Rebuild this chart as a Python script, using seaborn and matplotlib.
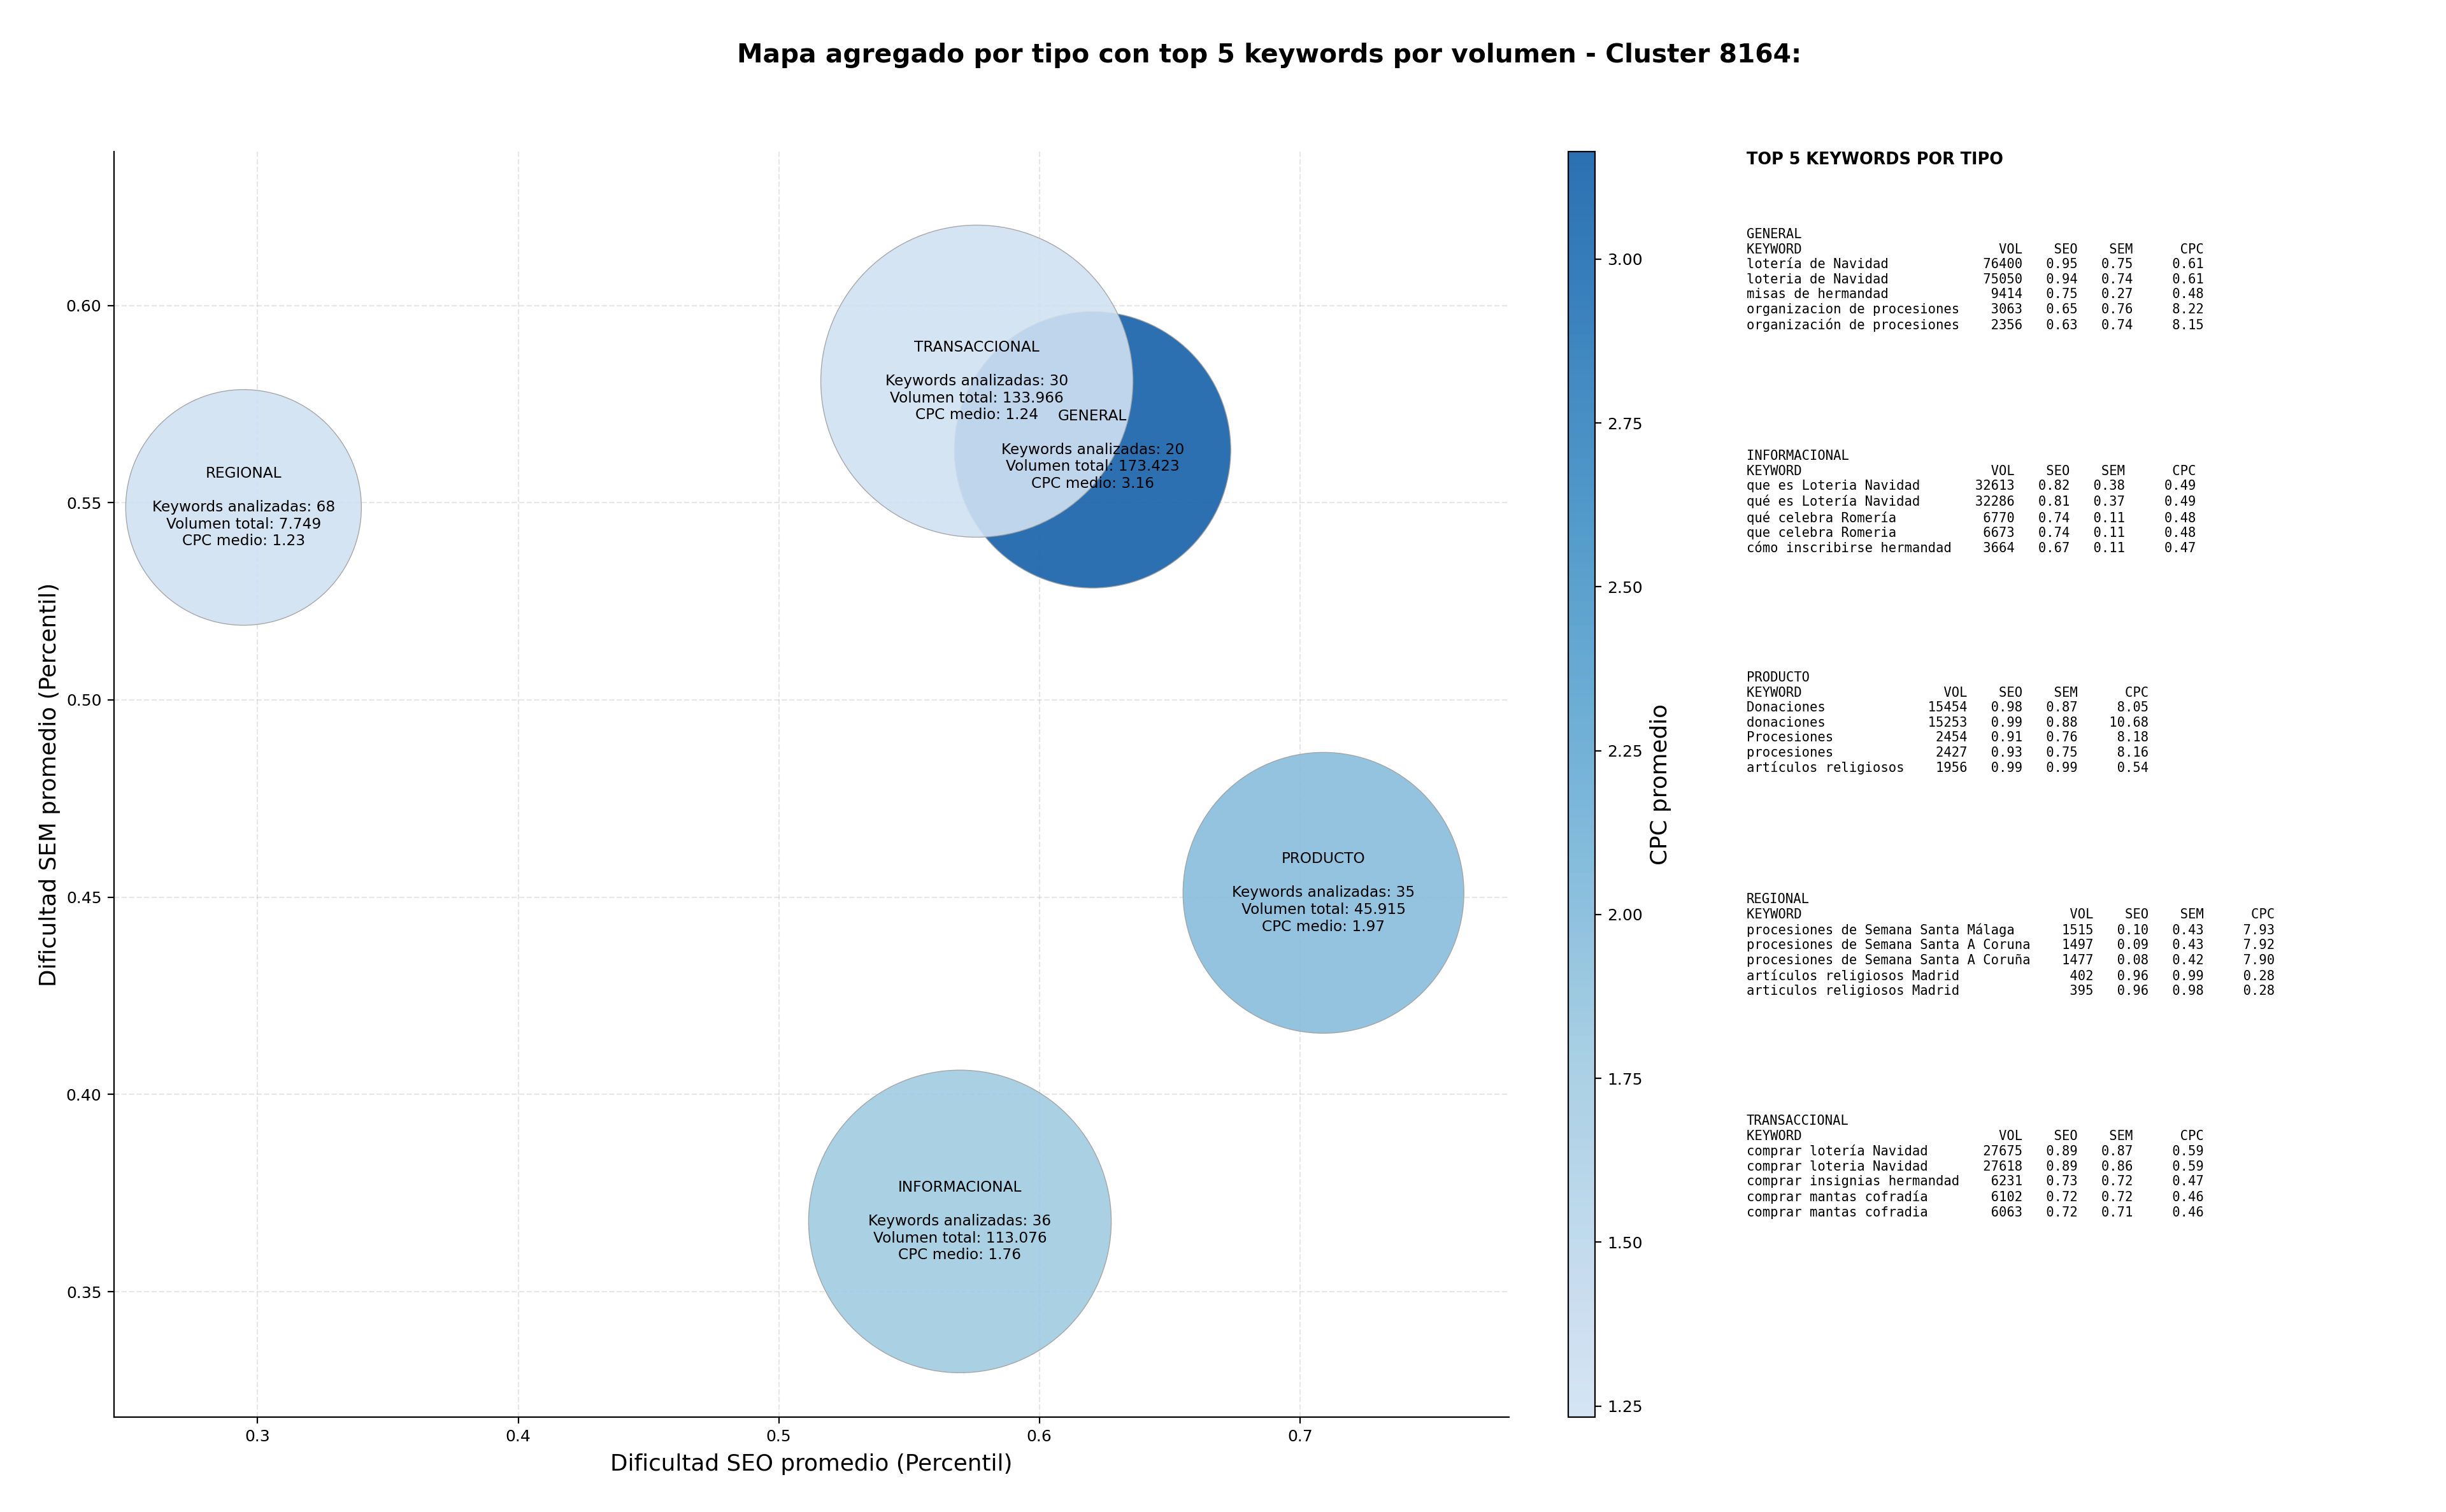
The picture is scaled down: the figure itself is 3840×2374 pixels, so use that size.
#!/usr/bin/env python3
"""
Mapa agregado por tipo con top 5 keywords - Cluster 8164
"""
import matplotlib
matplotlib.use('Agg')
import matplotlib.pyplot as plt
import numpy as np
import pandas as pd
import seaborn as sns
from matplotlib.cm import ScalarMappable
from matplotlib.colors import LinearSegmentedColormap, Normalize

# Aggregated data per type
tipos = ['GENERAL', 'INFORMACIONAL', 'PRODUCTO', 'REGIONAL', 'TRANSACCIONAL']
seo_medio = [0.6204, 0.5695, 0.709, 0.2946, 0.576]
sem_medio = [0.5634, 0.3678, 0.4511, 0.5488, 0.5808]
keywords_analizadas = [20, 36, 35, 68, 30]
volumen_total = [173423, 113076, 45915, 7749, 133966]
cpc_medio = [3.164, 1.76, 1.97, 1.233, 1.24]
bubble_area = [24400, 29260, 25200, 17740, 31120]

# Top 5 keywords per type
kw_general = ['lotería de Navidad', 'loteria de Navidad', 'misas de hermandad',
              'organizacion de procesiones', 'organización de procesiones']
vol_general = [76400, 75050, 9414, 3063, 2356]
seo_general = [0.95, 0.94, 0.75, 0.65, 0.63]
sem_general = [0.75, 0.74, 0.27, 0.76, 0.74]
cpc_general = [0.61, 0.61, 0.48, 8.22, 8.15]

kw_informacional = ['que es Loteria Navidad', 'qué es Lotería Navidad', 'qué celebra Romería',
                    'que celebra Romeria', 'cómo inscribirse hermandad']
vol_informacional = [32613, 32286, 6770, 6673, 3664]
seo_informacional = [0.82, 0.81, 0.74, 0.74, 0.67]
sem_informacional = [0.38, 0.37, 0.11, 0.11, 0.11]
cpc_informacional = [0.49, 0.49, 0.48, 0.48, 0.47]

kw_producto = ['Donaciones', 'donaciones', 'Procesiones', 'procesiones', 'artículos religiosos']
vol_producto = [15454, 15253, 2454, 2427, 1956]
seo_producto = [0.98, 0.99, 0.91, 0.93, 0.99]
sem_producto = [0.87, 0.88, 0.76, 0.75, 0.99]
cpc_producto = [8.05, 10.68, 8.18, 8.16, 0.54]

kw_regional = ['procesiones de Semana Santa Málaga', 'procesiones de Semana Santa A Coruna',
               'procesiones de Semana Santa A Coruña', 'artículos religiosos Madrid',
               'articulos religiosos Madrid']
vol_regional = [1515, 1497, 1477, 402, 395]
seo_regional = [0.10, 0.09, 0.08, 0.96, 0.96]
sem_regional = [0.43, 0.43, 0.42, 0.99, 0.98]
cpc_regional = [7.93, 7.92, 7.90, 0.28, 0.28]

kw_transaccional = ['comprar lotería Navidad', 'comprar loteria Navidad', 'comprar insignias hermandad',
                    'comprar mantas cofradía', 'comprar mantas cofradia']
vol_transaccional = [27675, 27618, 6231, 6102, 6063]
seo_transaccional = [0.89, 0.89, 0.73, 0.72, 0.72]
sem_transaccional = [0.87, 0.86, 0.72, 0.72, 0.71]
cpc_transaccional = [0.59, 0.59, 0.47, 0.46, 0.46]

tablas = [
    ('GENERAL', kw_general, vol_general, seo_general, sem_general, cpc_general),
    ('INFORMACIONAL', kw_informacional, vol_informacional, seo_informacional, sem_informacional, cpc_informacional),
    ('PRODUCTO', kw_producto, vol_producto, seo_producto, sem_producto, cpc_producto),
    ('REGIONAL', kw_regional, vol_regional, seo_regional, sem_regional, cpc_regional),
    ('TRANSACCIONAL', kw_transaccional, vol_transaccional, seo_transaccional, sem_transaccional, cpc_transaccional),
]

df = pd.DataFrame({'tipo': tipos, 'seo': seo_medio, 'sem': sem_medio,
                   'cpc': cpc_medio, 'area': bubble_area})

sns.set_style('ticks', {'text.color': 'black', 'axes.labelcolor': 'black',
                        'xtick.color': 'black', 'ytick.color': 'black',
                        'axes.edgecolor': 'black'})
plt.rcParams['font.family'] = 'DejaVu Sans'

fig = plt.figure(figsize=(19.2, 11.87), dpi=200)
ax = fig.add_axes([179 / 3840, 1 - 2225 / 2374, (2369 - 179) / 3840, (2225 - 238) / 2374])

# Truncated Blues so the lowest CPC is still visible
blues = sns.color_palette('Blues', as_cmap=True)
cmap = LinearSegmentedColormap.from_list('blues_cut', blues(np.linspace(0.2, 0.81, 256)))
norm = Normalize(vmin=min(cpc_medio), vmax=max(cpc_medio))

sns.scatterplot(data=df, x='seo', y='sem', hue='cpc', palette=cmap, hue_norm=norm,
                size='area', sizes={a: a for a in bubble_area}, alpha=0.9,
                edgecolor='#a0a0a0', linewidth=0.5, legend=False, ax=ax, zorder=2)

for i, tipo in enumerate(tipos):
    vol = f'{volumen_total[i]:,}'.replace(',', '.')
    label = (f'{tipo}\n\nKeywords analizadas: {keywords_analizadas[i]}\n'
             f'Volumen total: {vol}\nCPC medio: {cpc_medio[i]:.2f}')
    ax.text(seo_medio[i], sem_medio[i], label, ha='center', va='center',
            fontsize=8.4, linespacing=1.2, zorder=3)

ax.set_xlim(0.2449, 0.7802)
ax.set_ylim(0.3182, 0.6390)
ax.set_xticks([0.3, 0.4, 0.5, 0.6, 0.7])
ax.set_yticks([0.35, 0.40, 0.45, 0.50, 0.55, 0.60])
ax.tick_params(labelsize=9)
ax.set_xlabel('Dificultad SEO promedio (Percentil)', fontsize=12.9, labelpad=5)
ax.set_ylabel('Dificultad SEM promedio (Percentil)', fontsize=12.9, labelpad=3)
ax.grid(True, linestyle='--', color='#b0b0b0', alpha=0.3)
ax.set_axisbelow(True)
sns.despine(ax=ax)

# Colorbar
cax = fig.add_axes([2462 / 3840, 1 - 2225 / 2374, 42 / 3840, (2225 - 238) / 2374])
cbar = fig.colorbar(ScalarMappable(norm=norm, cmap=cmap), cax=cax, alpha=0.9)
cbar.set_ticks([1.25, 1.5, 1.75, 2.0, 2.25, 2.5, 2.75, 3.0])
cbar.ax.tick_params(labelsize=9)
cbar.set_label('CPC promedio', fontsize=12.9)

fig.text(0.519, 1 - 87 / 2374, 'Mapa agregado por tipo con top 5 keywords por volumen - Cluster 8164:',
         ha='center', va='center', fontsize=14.7, fontweight='bold')

# Side tables
fig.text(2742 / 3840, 1 - 251 / 2374, 'TOP 5 KEYWORDS POR TIPO', ha='left', va='center',
         fontsize=9.2, fontweight='bold')

for n, (nombre, kws, vols, seos, sems, cpcs) in enumerate(tablas):
    w = max(len(k) for k in kws)
    lines = [nombre, f"{'KEYWORD':<{w}}{'VOL':>8}{'SEO':>7}{'SEM':>7}{'CPC':>9}"]
    for k, v, se, sm, c in zip(kws, vols, seos, sems, cpcs):
        lines.append(f'{k:<{w}}{v:>8}{se:>7.2f}{sm:>7.2f}{c:>9.2f}')
    fig.text(2742 / 3840, 1 - (358 + n * 348) / 2374, '\n'.join(lines), ha='left', va='top',
             fontsize=7.4, linespacing=1.22, family='DejaVu Sans Mono')

fig.savefig('out.png', dpi=200)
